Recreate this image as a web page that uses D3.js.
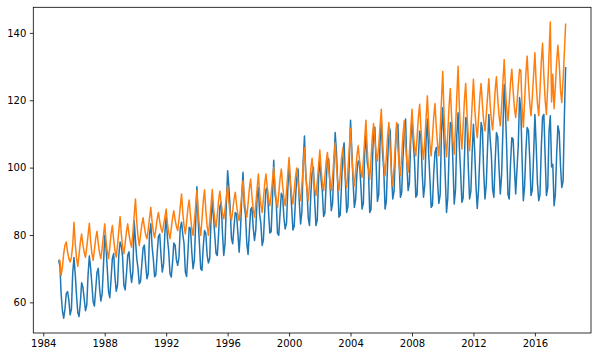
<!DOCTYPE html>
<html>
<head>
<meta charset="utf-8">
<script src="https://cdn.jsdelivr.net/npm/d3@7"></script>
<style>
  body { margin: 0; background: #fff; }
  text { font-family: "DejaVu Sans", sans-serif; }
</style>
</head>
<body>
<div id="chart"></div>
<script>
// monthly series, first point is January 1985
const startYear = 1985;
const tickYears = [1984, 1988, 1992, 1996, 2000, 2004, 2008, 2012, 2016];
const yTicks = [60, 80, 100, 120, 140];

const blue = [
  72.5, 70.7, 62.5, 57.5, 55.3, 58.1, 62.6, 63.2, 60.6, 56.3, 58.0, 68.7,   // 1985
  73.3, 68.0, 62.2, 57.0, 55.8, 59.9, 65.8, 64.5, 61.0, 57.5, 59.3, 68.1,   // 1986
  73.8, 70.1, 65.6, 60.2, 58.9, 63.9, 68.9, 70.1, 64.1, 60.4, 62.5, 70.6,   // 1987
  79.9, 76.2, 70.3, 63.2, 61.4, 67.1, 73.0, 74.5, 67.5, 63.3, 65.1, 73.9,   // 1988
  77.9, 76.7, 73.4, 65.1, 63.7, 68.5, 74.0, 75.0, 69.3, 65.9, 69.1, 84.2,   // 1989
  78.6, 73.0, 70.3, 65.5, 66.2, 71.3, 76.1, 77.0, 71.2, 67.0, 68.5, 80.2,   // 1990
  83.3, 76.5, 73.0, 67.6, 68.2, 74.5, 79.5, 80.3, 73.8, 69.0, 71.5, 80.5,   // 1991
  85.3, 79.0, 75.2, 68.5, 67.5, 72.0, 77.6, 77.0, 72.6, 71.0, 73.5, 82.0,   // 1992
  83.8, 80.0, 77.5, 69.0, 67.7, 74.5, 82.3, 82.0, 75.0, 70.0, 72.5, 83.0,   // 1993
  94.3, 84.0, 77.5, 70.0, 69.5, 76.5, 81.3, 80.5, 74.0, 71.7, 73.0, 84.0,   // 1994
  90.5, 85.0, 80.0, 74.5, 73.9, 80.5, 88.5, 89.7, 80.5, 73.9, 77.5, 89.0,   // 1995
  99.1, 94.0, 88.0, 79.0, 77.4, 82.5, 86.7, 86.2, 80.5, 74.9, 81.0, 91.0,   // 1996
  98.6, 88.5, 86.0, 77.5, 74.2, 81.0, 87.5, 88.2, 82.0, 78.4, 81.5, 91.0,   // 1997
  94.1, 86.0, 83.5, 76.9, 78.5, 87.0, 93.5, 94.1, 86.5, 80.6, 81.0, 90.5,   // 1998
  102.2, 92.0, 90.0, 80.5, 79.9, 86.5, 92.4, 91.5, 85.0, 81.8, 83.5, 93.5,  // 1999
  101.0, 95.0, 88.5, 81.5, 82.5, 90.5, 97.0, 99.6, 89.5, 83.3, 87.0, 101.5, // 2000
  109.4, 98.0, 93.5, 85.0, 82.8, 92.0, 98.5, 100.1, 90.0, 82.8, 84.5, 96.5, // 2001
  103.0, 96.5, 93.0, 85.5, 86.5, 95.5, 103.0, 102.5, 94.5, 87.2, 89.5, 100.5, // 2002
  110.4, 104.5, 95.5, 85.3, 86.0, 95.0, 104.0, 107.4, 96.0, 86.7, 88.5, 101.5, // 2003
  114.1, 105.0, 96.0, 88.2, 90.5, 98.5, 102.0, 101.5, 95.0, 87.7, 89.5, 104.0, // 2004
  110.4, 101.5, 99.5, 86.7, 87.5, 100.0, 111.5, 112.0, 101.0, 90.0, 92.0, 107.0, // 2005
  114.4, 104.0, 99.5, 87.7, 90.0, 101.5, 112.1, 111.0, 98.0, 90.7, 93.0, 104.5, // 2006
  112.0, 112.9, 101.5, 91.2, 92.5, 103.0, 110.0, 114.4, 101.0, 93.2, 95.5, 108.0, // 2007
  114.9, 107.5, 102.0, 91.2, 92.0, 103.0, 110.9, 109.0, 98.0, 91.2, 95.0, 108.0, // 2008
  114.4, 104.0, 97.0, 88.2, 88.8, 98.5, 104.5, 106.0, 95.5, 89.4, 92.0, 110.5, // 2009
  117.8, 108.0, 97.5, 86.7, 91.0, 104.5, 113.4, 113.0, 101.0, 89.2, 93.5, 109.5, // 2010
  116.3, 106.0, 99.0, 89.7, 91.0, 103.0, 114.9, 114.0, 100.0, 90.7, 93.0, 104.5, // 2011
  112.9, 104.5, 94.5, 87.9, 93.5, 103.5, 113.4, 111.5, 98.5, 90.7, 95.0, 106.0, // 2012
  115.8, 108.5, 104.0, 93.5, 91.2, 102.0, 110.4, 109.0, 99.5, 92.2, 98.0, 111.0, // 2013
  124.7, 116.5, 106.0, 92.0, 90.7, 101.5, 108.9, 108.5, 100.0, 92.2, 99.5, 106.5, // 2014
  120.8, 117.0, 103.0, 90.2, 94.5, 105.0, 111.9, 111.0, 102.5, 91.7, 93.5, 103.5, // 2015
  115.8, 106.5, 95.5, 90.2, 92.0, 106.0, 115.0, 115.8, 103.0, 91.7, 94.0, 110.5, // 2016
  115.4, 100.2, 101.0, 88.7, 92.0, 104.0, 112.4, 110.5, 100.5, 94.1, 96.0, 114.9, // 2017
  129.9                                                                        // 2018
];

const orange = [
  72.7, 72.4, 68.0, 70.5, 74.5, 77.0, 77.9, 75.0, 73.0, 72.0, 73.5, 77.0,   // 1985
  83.8, 77.3, 73.3, 70.7, 74.1, 77.9, 80.3, 77.2, 74.8, 73.4, 76.4, 80.0,   // 1986
  83.5, 78.0, 74.7, 72.5, 75.5, 79.0, 81.1, 77.5, 74.6, 73.0, 76.1, 79.7,   // 1987
  83.3, 78.2, 75.1, 73.0, 76.4, 80.4, 82.8, 78.6, 75.3, 73.4, 77.0, 81.3,   // 1988
  85.5, 80.0, 76.6, 74.4, 77.5, 81.1, 83.3, 80.2, 77.8, 76.4, 80.7, 85.7,   // 1989
  90.7, 83.8, 79.7, 76.9, 79.8, 83.1, 85.1, 82.3, 80.1, 78.9, 81.7, 84.9,   // 1990
  88.2, 83.7, 81.0, 79.2, 81.8, 84.8, 86.7, 84.0, 82.0, 80.8, 82.9, 85.3,   // 1991
  87.7, 83.3, 80.7, 78.9, 81.8, 85.1, 87.2, 84.5, 82.5, 81.3, 84.6, 88.4,   // 1992
  92.2, 86.3, 82.7, 80.3, 83.8, 87.9, 90.4, 85.7, 82.0, 79.9, 83.9, 88.5,   // 1993
  93.2, 86.6, 82.6, 79.9, 84.6, 90.0, 93.4, 87.3, 82.6, 79.9, 84.0, 88.7,   // 1994
  93.5, 87.9, 84.5, 82.3, 86.0, 90.3, 93.0, 89.3, 86.4, 84.8, 87.7, 91.2,   // 1995
  94.6, 89.5, 86.4, 84.3, 87.2, 90.6, 92.7, 88.9, 86.0, 84.3, 87.8, 92.0,   // 1996
  96.1, 90.7, 87.5, 85.3, 89.3, 93.8, 96.6, 91.5, 87.6, 85.3, 89.1, 93.6,   // 1997
  98.1, 92.4, 89.0, 86.7, 90.7, 95.3, 98.1, 93.9, 90.6, 88.7, 92.1, 96.1,   // 1998
  100.1, 94.2, 90.6, 88.2, 92.2, 96.8, 99.6, 94.7, 90.9, 88.7, 93.0, 98.0,  // 1999
  103.0, 96.1, 92.0, 89.2, 93.0, 97.2, 99.9, 95.5, 92.1, 90.2, 94.9, 100.4, // 2000
  105.9, 98.1, 93.3, 90.2, 94.6, 99.7, 102.8, 97.8, 93.9, 91.7, 95.8, 100.5, // 2001
  105.2, 99.2, 95.6, 93.2, 97.2, 101.7, 104.5, 99.4, 95.5, 93.2, 97.5, 102.4, // 2002
  107.4, 100.3, 96.0, 93.2, 97.6, 102.7, 105.8, 100.5, 96.4, 94.1, 99.4, 105.5, // 2003
  111.7, 103.2, 98.0, 94.6, 98.8, 103.5, 106.5, 102.3, 99.0, 97.1, 102.2, 108.2, // 2004
  114.1, 105.3, 100.0, 96.5, 102.3, 109.0, 113.1, 108.1, 104.2, 102.0, 106.6, 111.9, // 2005
  117.3, 107.5, 101.5, 97.6, 103.1, 109.5, 113.4, 105.0, 98.4, 94.6, 100.2, 106.8, // 2006
  113.4, 105.5, 100.8, 97.6, 103.3, 109.8, 113.9, 107.0, 101.7, 98.6, 104.2, 110.8, // 2007
  117.3, 110.4, 106.3, 103.5, 108.9, 115.0, 118.8, 111.5, 105.8, 102.5, 108.1, 114.7, // 2008
  121.3, 112.4, 107.1, 103.5, 108.9, 115.1, 119.0, 112.0, 106.6, 103.5, 111.0, 119.8, // 2009
  128.5, 115.9, 108.3, 103.2, 110.3, 118.4, 123.5, 114.7, 107.9, 104.0, 111.8, 121.0, // 2010
  130.1, 117.8, 110.4, 105.5, 112.3, 120.1, 125.0, 116.0, 109.0, 105.0, 111.4, 118.8, // 2011
  126.2, 117.6, 112.4, 108.9, 114.5, 121.0, 125.0, 118.7, 113.7, 110.9, 115.6, 121.0, // 2012
  126.4, 118.8, 114.2, 111.2, 116.7, 123.1, 127.0, 120.4, 115.3, 112.4, 118.3, 125.2, // 2013
  132.1, 123.0, 117.5, 113.9, 119.3, 125.4, 129.2, 122.8, 117.8, 114.9, 119.2, 124.2, // 2014
  129.2, 128.8, 118.0, 112.0, 119.5, 128.0, 133.1, 125.0, 119.0, 115.4, 121.0, 127.5, // 2015
  134.1, 124.8, 119.1, 115.4, 122.9, 131.5, 136.9, 127.4, 120.0, 115.8, 124.0, 133.5, // 2016
  143.2, 119.5, 127.7, 117.5, 124.0, 131.5, 136.3, 131.0, 123.0, 119.3, 126.0, 134.0, // 2017
  142.8                                                                             // 2018
];

const width = 598, height = 357;
const margin = { top: 7.3, right: 7, bottom: 24, left: 33.3 };

const svg = d3.select("#chart").append("svg")
  .attr("width", width)
  .attr("height", height);

const toRows = vals => vals.map((v, i) => ({ date: new Date(startYear, i, 1), v }));
const rowsBlue = toRows(blue);
const rowsOrange = toRows(orange);

// 5% padding on both axes, like matplotlib's default margins
const t0 = rowsBlue[0].date, t1 = rowsBlue[rowsBlue.length - 1].date;
const tPad = (t1 - t0) * 0.05;
const x = d3.scaleTime()
  .domain([new Date(+t0 - tPad), new Date(+t1 + tPad)])
  .range([margin.left, width - margin.right]);

const [vMin, vMax] = d3.extent(blue.concat(orange));
const vPad = (vMax - vMin) * 0.05;
const y = d3.scaleLinear()
  .domain([vMin - vPad, vMax + vPad])
  .range([height - margin.bottom, margin.top]);

const line = d3.line()
  .x(d => x(d.date))
  .y(d => y(d.v));

svg.append("path")
  .datum(rowsBlue)
  .attr("fill", "none")
  .attr("stroke", "#1f77b4")
  .attr("stroke-width", 1.5)
  .attr("stroke-linejoin", "round")
  .attr("d", line);

svg.append("path")
  .datum(rowsOrange)
  .attr("fill", "none")
  .attr("stroke", "#ff7f0e")
  .attr("stroke-width", 1.5)
  .attr("stroke-linejoin", "round")
  .attr("d", line);

const xAxis = d3.axisBottom(x)
  .tickValues(tickYears.map(yr => new Date(yr, 0, 1)))
  .tickFormat(d3.timeFormat("%Y"))
  .tickSize(3.5)
  .tickPadding(3.5)
  .tickSizeOuter(0);

const yAxis = d3.axisLeft(y)
  .tickValues(yTicks)
  .tickSize(3.5)
  .tickPadding(3.5)
  .tickSizeOuter(0);

const gx = svg.append("g")
  .attr("transform", `translate(0,${height - margin.bottom})`)
  .call(xAxis);
const gy = svg.append("g")
  .attr("transform", `translate(${margin.left},0)`)
  .call(yAxis);

[gx, gy].forEach(g => {
  g.select(".domain").remove();
  g.selectAll(".tick line").attr("stroke", "#000").attr("stroke-width", 0.8);
  g.selectAll(".tick text").attr("fill", "#000").style("font-size", "10px");
});

// axes frame
svg.append("rect")
  .attr("x", margin.left)
  .attr("y", margin.top)
  .attr("width", width - margin.right - margin.left)
  .attr("height", height - margin.bottom - margin.top)
  .attr("fill", "none")
  .attr("stroke", "#000")
  .attr("stroke-width", 0.8);
</script>
</body>
</html>
